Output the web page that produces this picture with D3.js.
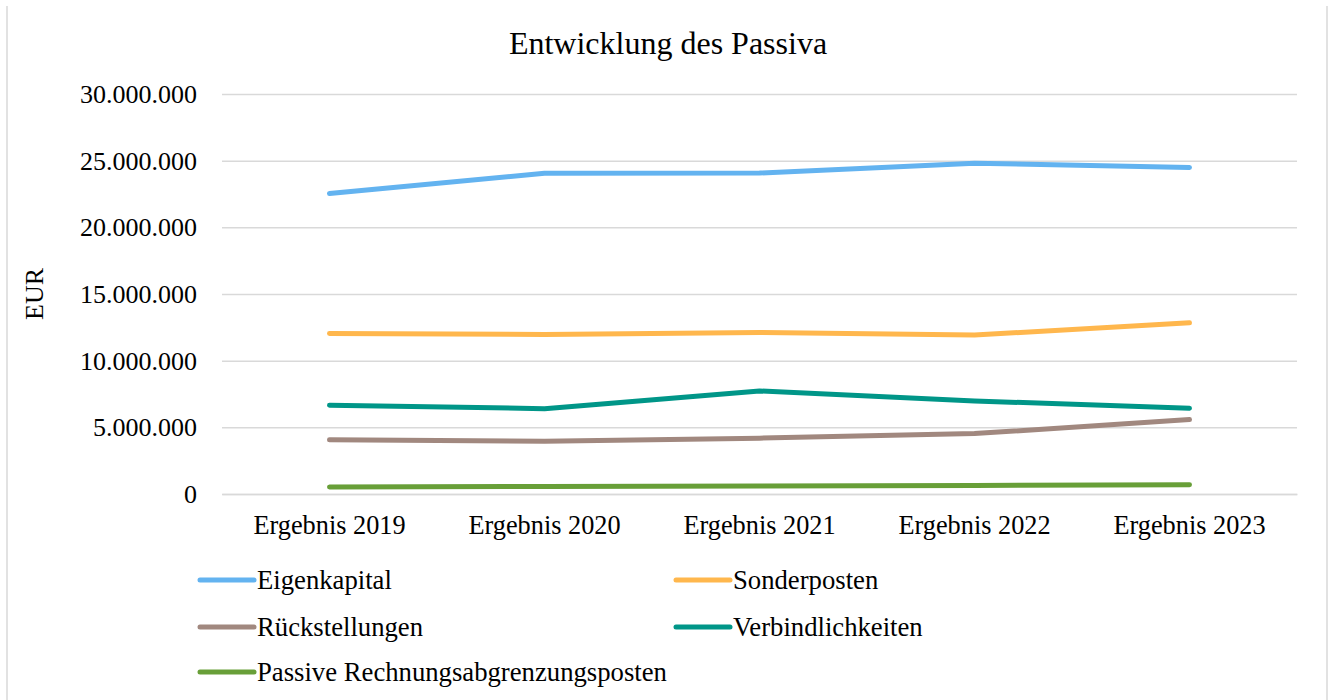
<!DOCTYPE html>
<html><head><meta charset="utf-8">
<script src="https://cdn.jsdelivr.net/npm/d3@7"></script>
<style>body{margin:0;background:#fff}svg{display:block}text{font-family:"Liberation Serif","Times New Roman",serif;fill:#000}</style>
</head><body>
<svg id="c" width="1335" height="700"></svg>
<script>
const categories = ["Ergebnis 2019","Ergebnis 2020","Ergebnis 2021","Ergebnis 2022","Ergebnis 2023"];
const seriesNames = ["Eigenkapital","Sonderposten","Rückstellungen","Verbindlichkeiten","Passive Rechnungsabgrenzungsposten"];
const eigenkapital = [22540000, 24060000, 24070000, 24810000, 24490000];
const sonderposten = [12040000, 11970000, 12120000, 11920000, 12840000];
const rueckstellungen = [4060000, 3960000, 4190000, 4530000, 5580000];
const verbindlichkeiten = [6660000, 6400000, 7730000, 6980000, 6430000];
const passiveRAP = [520000, 570000, 600000, 640000, 700000];
const yTicks = [0, 5000000, 10000000, 15000000, 20000000, 25000000, 30000000];
const colors = ["#63B3F0","#FFB74D","#A1887F","#009688","#689F38"];
const seriesValues = [eigenkapital, sonderposten, rueckstellungen, verbindlichkeiten, passiveRAP];

const svg = d3.select("#c");
const L = 222, R = 1297, T = 94, B = 494;
const FS = "26px";
const x = d3.scaleBand().domain(categories).range([L, R]);
const y = d3.scaleLinear().domain([0, 30000000]).range([B, T]);
const fmt = v => d3.format(",")(v).replace(/,/g, ".");

// frame
svg.append("line").attr("x1",7).attr("x2",7).attr("y1",6).attr("y2",700).attr("stroke","#d9d9d9").attr("stroke-width",1.5);
svg.append("line").attr("x1",1327).attr("x2",1327).attr("y1",6).attr("y2",700).attr("stroke","#d9d9d9").attr("stroke-width",1.5);

// title
svg.append("text").attr("x",668).attr("y",54).attr("text-anchor","middle").style("font-size","32px").text("Entwicklung des Passiva");

// grid + y axis
const yAxis = d3.axisLeft(y).tickValues(yTicks).tickFormat(fmt).tickSize(-(R-L)).tickPadding(25);
const gy = svg.append("g").attr("transform",`translate(${L},0)`).call(yAxis);
gy.select(".domain").remove();
gy.selectAll(".tick line").attr("stroke","#d9d9d9").attr("stroke-width",1.5);
gy.selectAll(".tick text").style("font-size",FS).attr("fill","#000").attr("font-family",null).attr("dy","0.33em");

// x axis
const xAxis = d3.axisBottom(x).tickSize(0).tickPadding(21);
const gx = svg.append("g").attr("transform",`translate(0,${B})`).call(xAxis);
gx.select(".domain").attr("stroke","#d9d9d9").attr("stroke-width",1.5);
gx.selectAll(".tick text").style("font-size","26.3px").attr("fill","#000").attr("font-family",null);

// y label
svg.append("text").attr("transform","translate(43,294) rotate(-90)").attr("text-anchor","middle").style("font-size",FS).text("EUR");

// lines
const line = d3.line().x((d,i)=>x(categories[i])+x.bandwidth()/2).y(d=>y(d));
seriesValues.forEach((vals,k)=>{
  svg.append("path").datum(vals).attr("d",line).attr("fill","none").attr("stroke",colors[k])
    .attr("stroke-width",5).attr("stroke-linecap","round").attr("stroke-linejoin","round");
});

// legend
const legPos = [[200,580],[676,580],[200,627],[676,627],[200,672]];
seriesNames.forEach((n,k)=>{
  const [lx,ly] = legPos[k];
  svg.append("line").attr("x1",lx).attr("x2",lx+54).attr("y1",ly).attr("y2",ly).attr("stroke",colors[k]).attr("stroke-width",5).attr("stroke-linecap","round");
  svg.append("text").attr("x",lx+57).attr("y",ly).attr("dy","0.35em").style("font-size","26.7px").text(n);
});
</script>
</body></html>
